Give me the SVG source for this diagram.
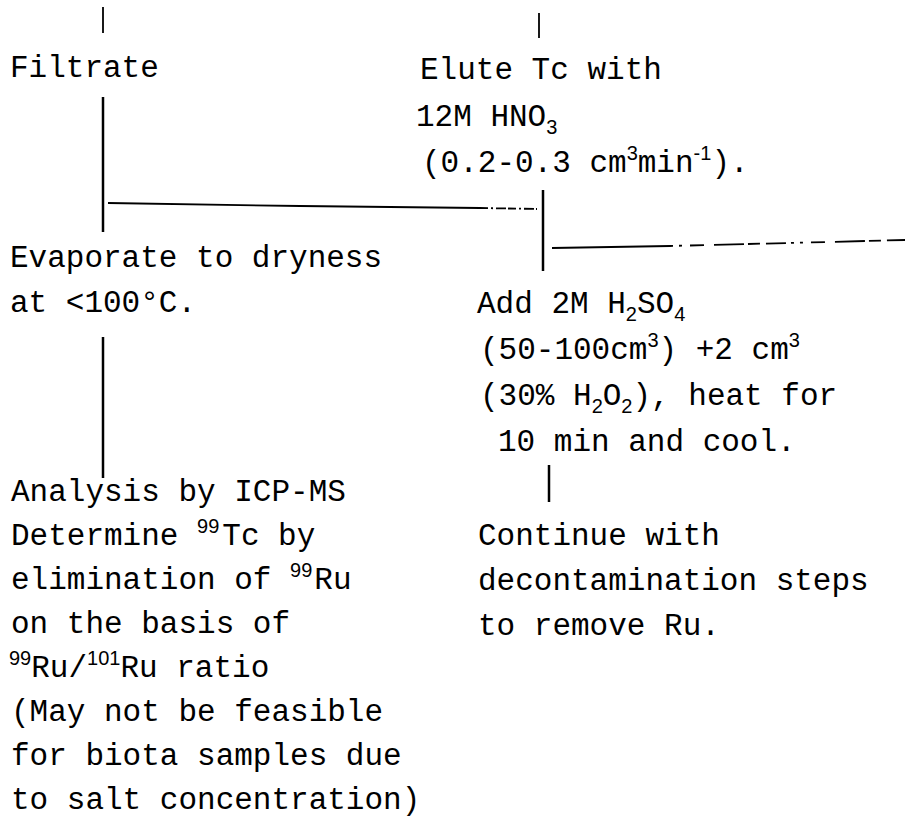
<svg xmlns="http://www.w3.org/2000/svg" width="905" height="822" viewBox="0 0 905 822">
<style>
text{font-family:"Liberation Mono","Courier New",monospace;font-size:31px;fill:#000}
.s{font-family:"Liberation Sans",Arial,sans-serif;font-size:20px}
.ln{stroke:#000;stroke-width:2.5;fill:none;stroke-linecap:butt}
.thin{stroke:#000;stroke-width:1.8;fill:none}
</style>
<rect width="905" height="822" fill="#fff"/>
<g id="connectors">
<line class="thin" x1="103" y1="7" x2="103" y2="33"/>
<line class="thin" x1="539" y1="13" x2="539" y2="38"/>
<line class="ln" x1="103" y1="97" x2="103" y2="232"/>
<polyline class="thin" points="108,203 300,206 480,208"/>
<line class="thin" x1="480" y1="208" x2="537" y2="209" stroke-dasharray="8 3 2 3 10 2"/>
<line class="ln" x1="543" y1="190" x2="543" y2="271"/>
<line class="thin" x1="552" y1="248" x2="670" y2="246"/>
<line class="thin" x1="670" y1="246" x2="905" y2="240" stroke-dasharray="3 6 3 8 14 10 30 4 12 6 20 5"/>
<line class="ln" x1="103" y1="337" x2="103" y2="478"/>
<line class="ln" x1="549" y1="465" x2="549" y2="502"/>
</g>
<g id="filtrate"><text x="10" y="77">Filtrate</text></g>
<g id="elute">
<text x="420" y="79">Elute Tc with</text>
<text x="416" y="126">12M HNO<tspan class="s" dy="8">3</tspan></text>
<text x="422" y="172">(0.2-0.3 cm<tspan class="s" dy="-12">3</tspan><tspan dy="12">min</tspan><tspan class="s" dy="-12">-1</tspan><tspan dy="12">).</tspan></text>
</g>
<g id="evaporate">
<text x="10" y="267">Evaporate to dryness</text>
<text x="10" y="312">at &lt;100°C.</text>
</g>
<g id="add">
<text x="477" y="313">Add 2M H<tspan class="s" dy="8">2</tspan><tspan dy="-8">SO</tspan><tspan class="s" dy="8">4</tspan></text>
<text x="480" y="359">(50-100cm<tspan class="s" dy="-12">3</tspan><tspan dy="12">) +2 cm</tspan><tspan class="s" dy="-12">3</tspan></text>
<text x="480" y="405">(30% H<tspan class="s" dy="8">2</tspan><tspan dy="-8">O</tspan><tspan class="s" dy="8">2</tspan><tspan dy="-8">), heat for</tspan></text>
<text x="498" y="451">10 min and cool.</text>
</g>
<g id="analysis">
<text x="11" y="501">Analysis by ICP-MS</text>
<text x="11" y="545">Determine <tspan class="s" dy="-12">99</tspan><tspan dy="12" dx="3">Tc by</tspan></text>
<text x="11" y="589">elimination of <tspan class="s" dy="-12">99</tspan><tspan dy="12" dx="2">Ru</tspan></text>
<text x="11" y="633">on the basis of</text>
<text x="9" y="677"><tspan class="s" dy="-12">99</tspan><tspan dy="12">Ru/</tspan><tspan class="s" dy="-12">101</tspan><tspan dy="12">Ru ratio</tspan></text>
<text x="11" y="721">(May not be feasible</text>
<text x="11" y="765">for biota samples due</text>
<text x="11" y="809">to salt concentration)</text>
</g>
<g id="continue">
<text x="478" y="545">Continue with</text>
<text x="478" y="590">decontamination steps</text>
<text x="478" y="635">to remove Ru.</text>
</g>
</svg>
